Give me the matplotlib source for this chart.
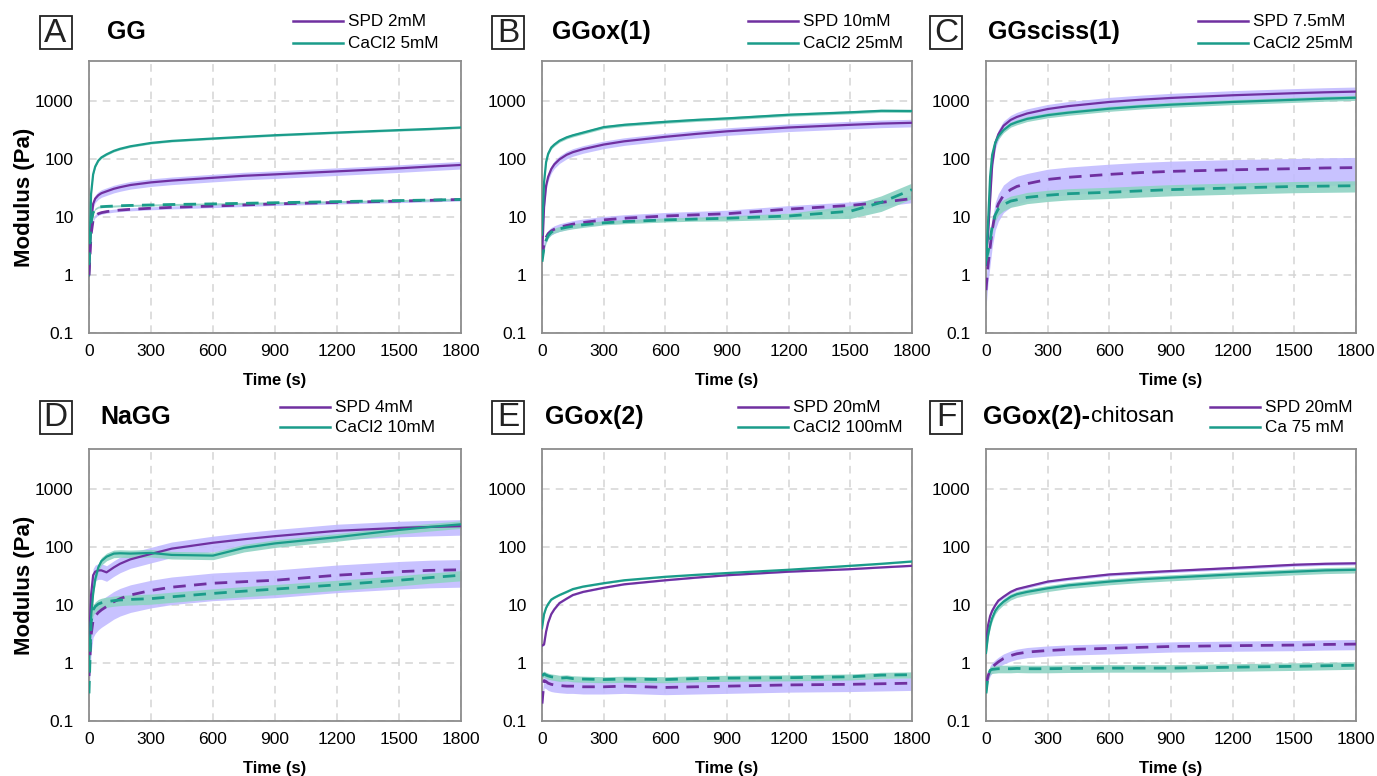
import numpy as np
import matplotlib
matplotlib.use("Agg")
from matplotlib import pyplot as plt
from matplotlib.lines import Line2D
from matplotlib.patches import Rectangle
from matplotlib.ticker import FixedLocator, FixedFormatter

plt.rcParams['font.family'] = ['Liberation Sans', 'DejaVu Sans']

# Time points (s) shared by all panels
time_s = [0, 10, 20, 30, 45, 60, 85, 120, 150, 200, 300, 400, 600, 750, 900, 1200, 1500, 1650, 1800]

# Panel A - GG
A_spd_gp = [1, 8, 17, 21, 24, 26, 28, 31, 33, 36, 40, 43, 48, 52, 55, 62, 70, 75, 80]
A_ca_gp = [1, 25, 55, 75, 95, 108, 122, 140, 152, 168, 192, 208, 229, 245, 261, 290, 320, 335, 355]
A_spd_gpp = [1, 5, 9, 10.5, 11.5, 12, 12.5, 13, 13.3, 13.7, 14.3, 14.8, 15.6, 16.3, 17, 18, 19, 19.6, 20.3]
A_ca_gpp = [1.5, 8, 12, 14, 15, 15.2, 15.4, 15.6, 15.8, 16, 16.3, 16.6, 17, 17.4, 17.8, 18.6, 19.4, 19.8, 20.3]
A_err = [0.15, 0.04, 0.06, 0.04]

# Panel B - GGox(1)
B_spd_gp = [2, 15, 35, 50, 68, 82, 100, 120, 133, 150, 180, 205, 245, 275, 305, 355, 395, 415, 428]
B_ca_gp = [5, 40, 90, 125, 160, 180, 210, 240, 260, 290, 360, 395, 445, 480, 510, 590, 650, 690, 685]
B_spd_gpp = [2, 3.5, 4.5, 5.2, 5.8, 6.2, 6.7, 7.2, 7.6, 8.1, 9.0, 9.6, 10.5, 11.0, 11.5, 13.8, 16, 18, 21]
B_ca_gpp = [1.7, 3, 4, 4.8, 5.5, 5.9, 6.3, 6.7, 7.0, 7.4, 8.0, 8.4, 9.0, 9.3, 9.6, 10.5, 12.7, 18, 30]
B_err = [0.15, 0.06, 0.15,
         [0.1, 0.1, 0.1, 0.1, 0.1, 0.1, 0.1, 0.1, 0.1, 0.1, 0.08, 0.08, 0.08, 0.08, 0.1, 0.12, 0.25, 0.3, 0.3]]

# Panel C - GGsciss(1)
C_spd_gp = [2, 5, 20, 80, 190, 270, 380, 480, 540, 620, 740, 830, 980, 1070, 1150, 1280, 1390, 1440, 1480]
C_ca_gp = [1.5, 8, 50, 120, 195, 250, 320, 400, 440, 500, 580, 640, 750, 820, 880, 980, 1070, 1120, 1160]
C_spd_gpp = [0.55, 1.5, 3, 6, 12, 17, 24, 30, 34, 38, 45, 49, 55, 59, 62, 66, 69, 71, 72]
C_ca_gpp = [1.8, 2.5, 4, 7, 11, 14, 16.5, 19, 20, 22, 24, 25.5, 27, 28.5, 30, 32, 34, 34.5, 35]
C_err = [0.2, 0.1, 0.5, 0.22]

# Panel D - NaGG
D_spd_gp = [2, 15, 33, 38, 40, 40, 37, 45, 52, 62, 77, 95, 120, 138, 156, 193, 217, 225, 232]
D_ca_gp = [1, 6, 16, 28, 45, 58, 69, 78, 79, 78, 80, 74, 72, 98, 117, 150, 200, 225, 250]
D_spd_gpp = [0.6, 3, 5.6, 6.5, 7.5, 8.3, 9.5, 11.5, 13, 15, 18, 20.5, 24, 25.5, 27, 33, 38, 40, 41]
D_ca_gpp = [0.3, 5, 8.3, 9.5, 10.5, 11, 11.5, 12, 12.3, 12.6, 13, 14, 16, 17.5, 19, 22.5, 27, 30, 33]
D_err = [0.3, 0.15, 0.5, 0.2]

# Panel E - GGox(2)
E_spd_gp = [2, 2.1, 3.5, 5, 7, 8.5, 10.9, 13, 15, 17, 20, 23, 27, 30, 33, 38, 42, 45, 48]
E_ca_gp = [4, 7, 9, 10.5, 12.5, 13.5, 15, 17, 19, 21, 24, 27, 31, 33.5, 36, 41, 48, 52, 57]
E_spd_gpp = [0.2, 0.5, 0.48, 0.45, 0.43, 0.42, 0.41, 0.40, 0.40, 0.39, 0.39, 0.40, 0.38, 0.39, 0.40, 0.42, 0.43, 0.44, 0.45]
E_ca_gpp = [0.6, 0.65, 0.62, 0.6, 0.58, 0.57, 0.55, 0.56, 0.54, 0.53, 0.52, 0.53, 0.52, 0.54, 0.55, 0.56, 0.58, 0.62, 0.63]
E_err = [0.03, 0.03, 0.25, 0.12]

# Panel F - GGox(2)-chitosan
F_spd_gp = [2.2, 4.5, 6.5, 8, 10, 12, 14, 17, 19, 21, 25.6, 28.5, 34, 36.5, 39, 44, 50, 52, 53]
F_ca_gp = [1.5, 3, 4.5, 6, 8, 9.5, 11.5, 14, 15.5, 17, 19.6, 22, 25.6, 28, 30, 34, 38, 40, 41]
F_spd_gpp = [0.42, 0.6, 0.75, 0.85, 0.95, 1.05, 1.2, 1.35, 1.45, 1.55, 1.65, 1.72, 1.8, 1.87, 1.94, 2.0, 2.05, 2.1, 2.13]
F_ca_gpp = [0.3, 0.6, 0.75, 0.78, 0.79, 0.8, 0.8, 0.8, 0.81, 0.8, 0.8, 0.81, 0.82, 0.82, 0.82, 0.85, 0.88, 0.9, 0.92]
F_err = [0.06, 0.12, 0.2, 0.15]

letters = ["A", "B", "C", "D", "E", "F"]
titles = ["GG", "GGox(1)", "GGsciss(1)", "NaGG", "GGox(2)", "GGox(2)-"]
spd_labels = ["SPD 2mM", "SPD 10mM", "SPD 7.5mM", "SPD 4mM", "SPD 20mM", "SPD 20mM"]
ca_labels = ["CaCl2 5mM", "CaCl2 25mM", "CaCl2 25mM", "CaCl2 10mM", "CaCl2 100mM", "Ca 75 mM"]

yticks = [0.1, 1, 10, 100, 1000]
ytick_labels = ["0.1", "1", "10", "100", "1000"]
xticks = [0, 300, 600, 900, 1200, 1500, 1800]

panels = [
    (A_spd_gp, A_ca_gp, A_spd_gpp, A_ca_gpp, A_err),
    (B_spd_gp, B_ca_gp, B_spd_gpp, B_ca_gpp, B_err),
    (C_spd_gp, C_ca_gp, C_spd_gpp, C_ca_gpp, C_err),
    (D_spd_gp, D_ca_gp, D_spd_gpp, D_ca_gpp, D_err),
    (E_spd_gp, E_ca_gp, E_spd_gpp, E_ca_gpp, E_err),
    (F_spd_gp, F_ca_gp, F_spd_gpp, F_ca_gpp, F_err),
]

purple = "#7030a0"
teal = "#1a9c8a"
purple_band = "#c2bcff"
teal_band = "#8fd3c4"

W, H = 1377, 776
fig = plt.figure(figsize=(W / 100, H / 100), dpi=100)


def fx(x):
    return x / W


def fy(y):
    return 1 - y / H


# axes boxes in pixels: left, right, top, bottom
lefts = [89, 542, 986]
rights = [461, 912, 1356]
tops = [61, 449]
bottoms = [333, 721]

# legend / label anchors in pixels
legend_x = [[293, 748, 1198], [280, 738, 1210]]
title_x = [107, 552, 988, 100, 545, 983]
letter_x = [55.5, 508, 946]
head_y = [32, 417]
legend_rows = [(21, 43), (407, 427)]

t = np.array(time_s)

for i, (spd1, ca1, spd2, ca2, err) in enumerate(panels):
    row, col = divmod(i, 3)
    ax = fig.add_axes([fx(lefts[col]), fy(bottoms[row]),
                       fx(rights[col] - lefts[col]), (bottoms[row] - tops[row]) / H])
    ax.set_yscale("log")
    ax.set_ylim(0.1, 5000)
    ax.set_xlim(0, 1800)

    series = [(spd1, purple, purple_band, "-"), (ca1, teal, teal_band, "-"),
              (spd2, purple, purple_band, "--"), (ca2, teal, teal_band, "--")]
    for (vals, c, bc, ls), e in zip(series, err):
        v = np.array(vals, dtype=float)
        e = np.broadcast_to(np.array(e, dtype=float), v.shape)
        ax.fill_between(t, v * (1 - e), v * (1 + e), color=bc, alpha=0.9, lw=0, zorder=2)
    for (vals, c, bc, ls) in series:
        if ls == "-":
            ax.plot(t, vals, color=c, lw=1.6, zorder=4)
        else:
            ax.plot(t, vals, color=c, lw=2.0, ls=(0, (4.5, 3)), zorder=4)

    ax.yaxis.set_major_locator(FixedLocator(yticks))
    ax.yaxis.set_major_formatter(FixedFormatter(ytick_labels))
    ax.yaxis.set_minor_locator(FixedLocator([]))
    ax.set_xticks(xticks)
    ax.tick_params(length=0, labelsize=12.5, pad=8)
    ax.tick_params(axis="y", pad=11)
    ax.grid(True, color="#d4d4d4", ls=(0, (5, 4)), lw=1.1)
    ax.set_axisbelow(True)
    for s in ax.spines.values():
        s.set_color("#8c8c8c")
        s.set_linewidth(1.3)

    ax.set_xlabel("Time (s)", fontsize=12, fontweight="bold", labelpad=10)
    if col == 0:
        ax.set_ylabel("Modulus (Pa)", fontsize=16, fontweight="bold", labelpad=0)

    # boxed panel letter and title
    cx, cy = letter_x[col], head_y[row]
    fig.add_artist(Rectangle((fx(cx - 16), fy(cy + 16.5)), 32 / W, 33 / H,
                             transform=fig.transFigure, fill=False, ec="#222222", lw=1.3))
    fig.text(fx(cx), fy(cy + 1), letters[i], fontsize=24, ha="center", va="center",
             color="#222222")
    ttl = fig.text(fx(title_x[i]), fy(head_y[row]), titles[i], fontsize=18,
                   fontweight="bold", ha="left", va="center")
    if i == 5:
        fig.canvas.draw()
        bb = ttl.get_window_extent().transformed(fig.transFigure.inverted())
        fig.text(bb.x1 + 0.001, fy(head_y[row]), "chitosan", fontsize=16,
                 ha="left", va="center")

    # legend drawn by hand above the axes
    lx = legend_x[row][col]
    for (yy, c, lab) in zip(legend_rows[row], [purple, teal], [spd_labels[i], ca_labels[i]]):
        fig.add_artist(Line2D([fx(lx), fx(lx + 50)], [fy(yy), fy(yy)], color=c, lw=1.8))
        fig.text(fx(lx + 55), fy(yy), lab, fontsize=12.3, ha="left", va="center")

fig.savefig("out.png", dpi=100)
